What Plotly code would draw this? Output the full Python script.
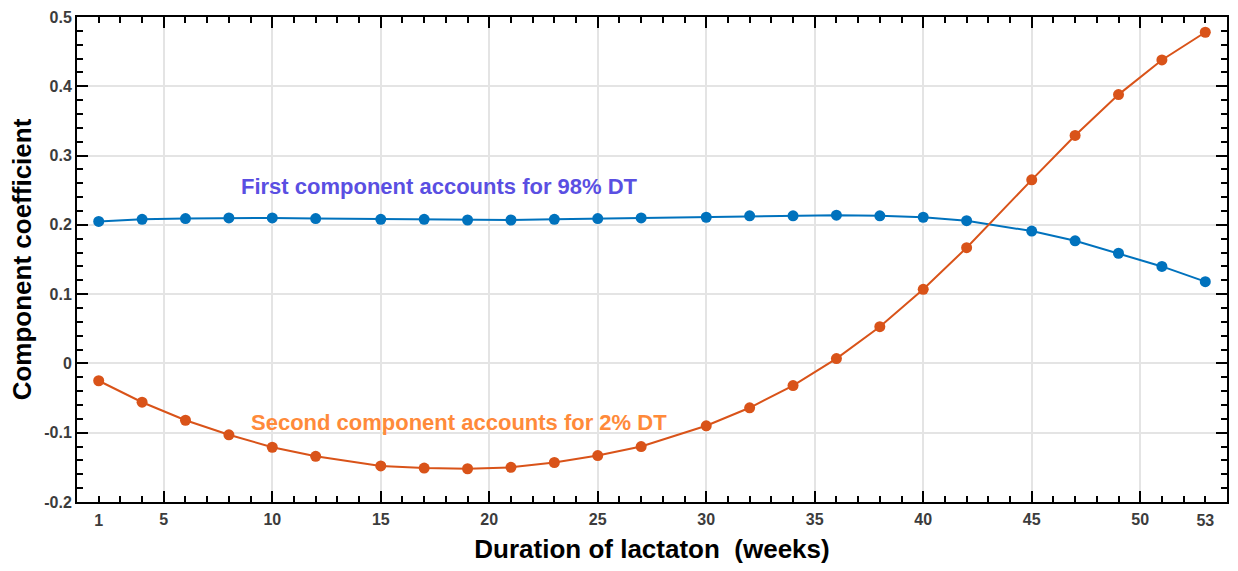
import plotly.graph_objects as go

# ---- data ----
weeks = [2, 4, 6, 8, 10, 12, 15, 17, 19, 21, 23, 25, 27, 30, 32, 34, 36, 38, 40, 42, 45, 47, 49, 51, 53]
first_comp = [0.205, 0.208, 0.209, 0.210, 0.210, 0.209, 0.208, 0.208, 0.207, 0.207, 0.208, 0.209, 0.210,
              0.211, 0.213, 0.213, 0.214, 0.213, 0.211, 0.206, 0.191, 0.177, 0.159, 0.140, 0.118]
second_comp = [-0.025, -0.056, -0.082, -0.103, -0.121, -0.134, -0.148, -0.151, -0.152, -0.150, -0.143,
               -0.133, -0.120, -0.090, -0.064, -0.032, 0.007, 0.053, 0.107, 0.167, 0.265, 0.329,
               0.388, 0.438, 0.478]

x_major_vals = [5, 10, 15, 20, 25, 30, 35, 40, 45, 50]
x_major_text = ["5", "10", "15", "20", "25", "30", "35", "40", "45", "50"]
x_end_vals = [2, 53]
x_end_text = ["1", "53"]
y_tick_vals = [-0.2, -0.1, 0, 0.1, 0.2, 0.3, 0.4, 0.5]
y_tick_text = ["-0.2", "-0.1", "0", "0.1", "0.2", "0.3", "0.4", "0.5"]

label_first = "First component accounts for 98% DT"
label_second = "Second component accounts for 2% DT"
x_title = "Duration of lactaton  (weeks)"
y_title = "Component coefficient"

BLUE = "#0072BD"
ORANGE = "#D95319"
FONT = "Liberation Sans, Arial, sans-serif"

fig = go.Figure()
fig.add_trace(go.Scatter(x=weeks, y=first_comp, mode="lines+markers",
                         line=dict(color=BLUE, width=2),
                         marker=dict(color=BLUE, size=11), showlegend=False))
fig.add_trace(go.Scatter(x=weeks, y=second_comp, mode="lines+markers",
                         line=dict(color=ORANGE, width=2),
                         marker=dict(color=ORANGE, size=11), showlegend=False))
# dummy trace for the overlay axis carrying the end labels
fig.add_trace(go.Scatter(x=[None], y=[None], xaxis="x2", yaxis="y", showlegend=False,
                         hoverinfo="skip"))

tickfont = dict(family=FONT, size=16, color="#3c3c3c", weight="bold")

fig.update_layout(
    width=1238, height=571,
    margin=dict(l=77, r=9, t=12, b=69),
    paper_bgcolor="white", plot_bgcolor="white",
    xaxis=dict(
        range=[1, 54], tickmode="array", tickvals=x_major_vals, ticktext=x_major_text,
        ticks="inside", ticklen=11, tickwidth=2, tickcolor="black",
        showline=True, linecolor="black", linewidth=2, mirror="ticks",
        showgrid=True, gridcolor="#e4e4e4", gridwidth=1.5, zeroline=False,
        minor=dict(tick0=0, dtick=1, ticks="inside", ticklen=6, tickwidth=2,
                   tickcolor="black", showgrid=False),
        tickfont=tickfont, ticklabelstandoff=2,
        title=dict(text=x_title, font=dict(family=FONT, size=26, color="black", weight="bold"),
                   standoff=13),
    ),
    xaxis2=dict(
        range=[1, 54], overlaying="x", anchor="y", side="bottom",
        tickmode="array", tickvals=x_end_vals, ticktext=x_end_text,
        ticks="", showgrid=False, showline=False, zeroline=False,
        tickfont=tickfont, ticklabelstandoff=7,
    ),
    yaxis=dict(
        range=[-0.2, 0.5], tickmode="array", tickvals=y_tick_vals, ticktext=y_tick_text,
        ticks="inside", ticklen=11, tickwidth=2, tickcolor="black",
        showline=True, linecolor="black", linewidth=2, mirror="ticks",
        showgrid=True, gridcolor="#e4e4e4", gridwidth=1.5, zeroline=False,
        minor=dict(tick0=0, dtick=0.02, ticks="inside", ticklen=6, tickwidth=2,
                   tickcolor="black", showgrid=False),
        tickfont=tickfont,
        title=dict(text=y_title, font=dict(family=FONT, size=26, color="black", weight="bold"),
                   standoff=5),
    ),
    annotations=[
        dict(x=17.7, y=0.255, xref="x", yref="y", text=label_first, showarrow=False,
             font=dict(family=FONT, size=22, color="#5a4fe2", weight="bold")),
        dict(x=18.6, y=-0.085, xref="x", yref="y", text=label_second, showarrow=False,
             font=dict(family=FONT, size=22, color="#ff8a3a", weight="bold")),
    ],
)

fig.write_html("out.html")
